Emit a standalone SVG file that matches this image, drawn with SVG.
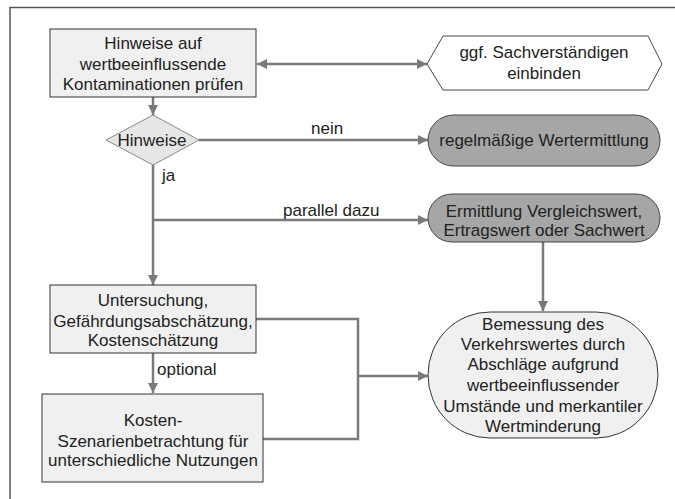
<svg xmlns="http://www.w3.org/2000/svg" width="675" height="499" viewBox="0 0 675 499">
<defs>
<marker id="ah" viewBox="0 0 10 10" refX="10" refY="5" markerWidth="4" markerHeight="4" orient="auto-start-reverse" markerUnits="strokeWidth">
<path d="M0,0 L10,5 L0,10 z" fill="#7a7a7a"/>
</marker>
<style>
text{font-family:"Liberation Sans",Arial,sans-serif;font-size:17px;fill:#222;text-anchor:middle}
.lbl{text-anchor:start}
.box{fill:#f0f0f0;stroke:#333;stroke-width:1}
.dark{fill:#a6a6a6;stroke:#444;stroke-width:1}
.con{fill:none;stroke:#7a7a7a;stroke-width:2.5}
</style>
</defs>
<rect width="675" height="499" fill="#fff"/>
<path d="M10,499 V7.5 H675" fill="none" stroke="#555" stroke-width="1.5"/>
<g id="connectors">
<path class="con" d="M153,97 V115" marker-end="url(#ah)"/>
<path class="con" d="M257,64 H427" marker-start="url(#ah)" marker-end="url(#ah)"/>
<path class="con" d="M199,140 H428" marker-end="url(#ah)"/>
<path class="con" d="M153,165 V285" marker-end="url(#ah)"/>
<path class="con" d="M153,220 H428" marker-end="url(#ah)"/>
<path class="con" d="M543,242 V311" marker-end="url(#ah)"/>
<path class="con" d="M153,353 V393" marker-end="url(#ah)"/>
<path class="con" d="M256,319 H358 V439 H263"/>
<path class="con" d="M358,376 H428" marker-end="url(#ah)"/>
<text class="lbl" x="311" y="134">nein</text>
<text class="lbl" x="162" y="181">ja</text>
<text class="lbl" x="283" y="216">parallel dazu</text>
<text class="lbl" x="157" y="375">optional</text>
</g>
<g id="n1">
<rect class="box" x="50" y="29" width="206" height="68"/>
<text x="153" y="49">Hinweise auf</text>
<text x="153" y="70">wertbeeinflussende</text>
<text x="153" y="90">Kontaminationen prüfen</text>
</g>
<g id="n2">
<polygon points="427,64 443,36 648,36 662,64 648,90 443,90" fill="#fff" stroke="#444" stroke-width="1"/>
<text x="544" y="58">ggf. Sachverständigen</text>
<text x="544" y="79">einbinden</text>
</g>
<g id="n3">
<polygon points="106,140 153,115 199,140 153,165" fill="#e6e6e6" stroke="#888" stroke-width="1"/>
<text x="152" y="146">Hinweise</text>
</g>
<g id="n4">
<rect class="dark" x="428" y="115" width="232" height="51" rx="25.5"/>
<text x="544" y="146">regelmäßige Wertermittlung</text>
</g>
<g id="n5">
<rect class="dark" x="428" y="194" width="232" height="48" rx="24"/>
<text x="544" y="217">Ermittlung Vergleichswert,</text>
<text x="544" y="236">Ertragswert oder Sachwert</text>
</g>
<g id="n6">
<rect class="box" x="50" y="285" width="206" height="68"/>
<text x="153" y="306">Untersuchung,</text>
<text x="153" y="327">Gefährdungsabschätzung,</text>
<text x="153" y="346">Kostenschätzung</text>
</g>
<g id="n7">
<rect class="box" x="42" y="394" width="221" height="88"/>
<text x="153" y="426">Kosten-</text>
<text x="153" y="447">Szenarienbetrachtung für</text>
<text x="153" y="466">unterschiedliche Nutzungen</text>
</g>
<g id="n8">
<rect class="box" x="428" y="312" width="230" height="126" rx="62" ry="63" stroke="#555"/>
<text x="543" y="330">Bemessung des</text>
<text x="543" y="350">Verkehrswertes durch</text>
<text x="543" y="370">Abschläge aufgrund</text>
<text x="543" y="391">wertbeeinflussender</text>
<text x="543" y="412">Umstände und merkantiler</text>
<text x="543" y="432">Wertminderung</text>
</g>
</svg>
